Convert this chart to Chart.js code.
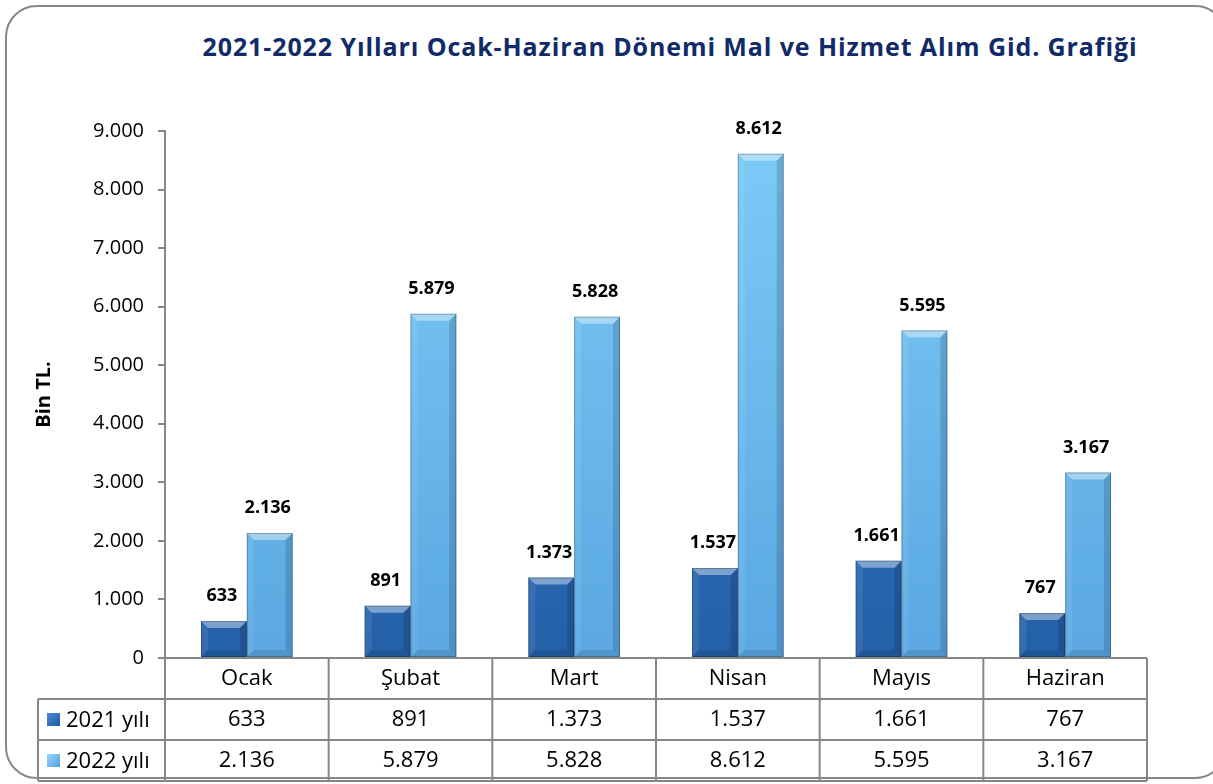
<!DOCTYPE html>
<html>
<head>
<meta charset="utf-8">
<script src="https://cdn.jsdelivr.net/npm/chart.js@4/dist/chart.umd.min.js"></script>
<style>
    html, body { margin: 0; padding: 0; background: #fff; overflow: hidden; }
    #wrap { position: relative; width: 1213px; height: 784px; }
    #frame {
        position: absolute; left: 5px; top: 5px; width: 1222px; height: 774px;
        border: 2px solid #878787; border-radius: 32px; box-sizing: border-box;
    }
    #title {
        position: absolute; left: 170px; width: 1000px; top: 29px; text-align: center;
        font-family: "Open Sans", sans-serif; font-weight: bold; font-size: 25px;
        letter-spacing: 0.9px; line-height: 34px; color: #112a68;
    }
    canvas { position: absolute; left: 0; top: 0; }
</style>
</head>
<body>
<div id="wrap">
    <div id="frame"></div>
    <div id="title">2021-2022 Yılları Ocak-Haziran Dönemi Mal ve Hizmet Alım Gid. Grafiği</div>
    <canvas id="chart" width="1213" height="784"></canvas>
</div>
<script>
const months = ['Ocak', 'Şubat', 'Mart', 'Nisan', 'Mayıs', 'Haziran'];
const seriesNames = ['2021 yılı', '2022 yılı'];
const values2021 = [633, 891, 1373, 1537, 1661, 767];
const values2022 = [2136, 5879, 5828, 8612, 5595, 3167];
const yTicks = [0, 1000, 2000, 3000, 4000, 5000, 6000, 7000, 8000, 9000];

const FONT = '"Open Sans", sans-serif';
const GRID = '#878787';

function fmt(v) {
    return String(v).replace(/\B(?=(\d{3})+(?!\d))/g, '.');
}

function barFill(top, bottom) {
    return function (ctx) {
        const area = ctx.chart.chartArea;
        if (!area) return bottom;
        const g = ctx.chart.ctx.createLinearGradient(0, area.top, 0, area.bottom);
        g.addColorStop(0, top);
        g.addColorStop(1, bottom);
        return g;
    };
}

// bevel look on each bar, drawn from the bar elements themselves
const bevelPlugin = {
    id: 'bevel',
    afterDatasetsDraw(chart) {
        const ctx = chart.ctx;
        chart.data.datasets.forEach((ds, di) => {
            chart.getDatasetMeta(di).data.forEach(bar => {
                const x0 = bar.x - bar.width / 2, x1 = bar.x + bar.width / 2;
                const y = bar.y, base = bar.base, b = 7;
                ctx.save();
                ctx.fillStyle = 'rgba(255,255,255,0.4)';
                ctx.beginPath();
                ctx.moveTo(x0, y); ctx.lineTo(x1, y); ctx.lineTo(x1 - b, y + b); ctx.lineTo(x0 + b, y + b);
                ctx.closePath(); ctx.fill();
                ctx.fillStyle = 'rgba(0,0,0,0.14)';
                ctx.beginPath();
                ctx.moveTo(x1, y); ctx.lineTo(x1, base); ctx.lineTo(x1 - b, base - b); ctx.lineTo(x1 - b, y + b);
                ctx.closePath(); ctx.fill();
                ctx.fillStyle = 'rgba(0,0,0,0.1)';
                ctx.beginPath();
                ctx.moveTo(x0, base); ctx.lineTo(x1, base); ctx.lineTo(x1 - b, base - b); ctx.lineTo(x0 + b, base - b);
                ctx.closePath(); ctx.fill();
                ctx.fillStyle = 'rgba(255,255,255,0.08)';
                ctx.beginPath();
                ctx.moveTo(x0, y); ctx.lineTo(x0 + b, y + b); ctx.lineTo(x0 + b, base - b); ctx.lineTo(x0, base);
                ctx.closePath(); ctx.fill();
                ctx.strokeStyle = 'rgba(0,0,0,0.25)';
                ctx.lineWidth = 1;
                ctx.strokeRect(x0 + 0.5, y + 0.5, bar.width - 1, base - y - 1);
                ctx.restore();
            });
        });
        // value labels
        ctx.save();
        ctx.font = 'bold 18px ' + FONT;
        ctx.fillStyle = '#000';
        ctx.textAlign = 'center';
        ctx.textBaseline = 'middle';
        chart.data.datasets.forEach((ds, di) => {
            chart.getDatasetMeta(di).data.forEach((bar, i) => {
                ctx.fillText(fmt(ds.data[i]), bar.x - 2, bar.y - 25);
            });
        });
        ctx.restore();
    }
};

// data table under the plot, columns follow the x scale
const tablePlugin = {
    id: 'dataTable',
    afterDraw(chart) {
        const ctx = chart.ctx;
        const xs = chart.scales.x;
        const area = chart.chartArea;
        const colW = (area.right - area.left) / months.length;
        const rowH = 41;
        const top = area.bottom;
        const legendLeft = 38;
        ctx.save();
        ctx.strokeStyle = GRID;
        ctx.lineWidth = 2;
        ctx.beginPath();
        ctx.moveTo(area.left, top); ctx.lineTo(area.right, top);
        for (let r = 1; r <= 3; r++) {
            const yy = top + r * rowH;
            ctx.moveTo(legendLeft, yy);
            ctx.lineTo(area.right, yy);
        }
        for (let i = 0; i <= months.length; i++) {
            const xx = area.left + i * colW;
            ctx.moveTo(xx, top); ctx.lineTo(xx, top + 3 * rowH);
        }
        ctx.moveTo(legendLeft, top + rowH); ctx.lineTo(legendLeft, top + 3 * rowH);
        ctx.stroke();

        ctx.fillStyle = '#000';
        ctx.font = '22px ' + FONT;
        ctx.textAlign = 'center';
        ctx.textBaseline = 'middle';
        months.forEach((m, i) => {
            const cx = xs.getPixelForValue(i);
            ctx.fillText(m, cx, top + rowH / 2);
            ctx.fillText(fmt(values2021[i]), cx, top + rowH * 1.5);
            ctx.fillText(fmt(values2022[i]), cx, top + rowH * 2.5);
        });
        // legend keys
        ctx.textAlign = 'left';
        seriesNames.forEach((name, k) => {
            const cy = top + rowH * (1.5 + k);
            const s = 13;
            const g = ctx.createLinearGradient(47, cy - s / 2, 47 + s, cy + s / 2);
            g.addColorStop(0, k === 0 ? '#4a8ad6' : '#9ad6fa');
            g.addColorStop(1, k === 0 ? '#1f5aa0' : '#4ea2de');
            ctx.fillStyle = g;
            ctx.fillRect(47, cy - s / 2, s, s);
            ctx.fillStyle = '#000';
            ctx.fillText(name, 66, cy + 1);
        });
        ctx.restore();
    }
};

new Chart(document.getElementById('chart'), {
    type: 'bar',
    data: {
        labels: months,
        datasets: [
            {
                label: seriesNames[0],
                data: values2021,
                backgroundColor: barFill('#3a80d0', '#2460a8')
            },
            {
                label: seriesNames[1],
                data: values2022,
                backgroundColor: barFill('#7ccbf7', '#5aa7e2')
            }
        ]
    },
    options: {
        responsive: false,
        animation: false,
        layout: { padding: { top: 131, bottom: 126, left: 0, right: 66 } },
        datasets: { bar: { barPercentage: 1, categoryPercentage: 0.56 } },
        plugins: {
            legend: { display: false },
            title: { display: false },
            tooltip: { enabled: false }
        },
        scales: {
            x: { display: false },
            y: {
                min: 0,
                max: 9000,
                afterFit(scale) { scale.width = 165; },
                afterBuildTicks(scale) { scale.ticks = yTicks.map(v => ({ value: v })); },
                ticks: {
                    padding: 14,
                    color: '#000',
                    font: { family: FONT, size: 20 },
                    callback: v => fmt(v)
                },
                grid: { drawOnChartArea: false, tickLength: 7, color: GRID, lineWidth: 2 },
                border: { color: GRID, width: 2 },
                title: {
                    display: true,
                    text: 'Bin TL.',
                    color: '#000',
                    font: { family: FONT, size: 20, weight: 'bold' },
                    padding: { top: 32, bottom: 0 }
                }
            }
        }
    },
    plugins: [bevelPlugin, tablePlugin]
});
</script>
</body>
</html>
